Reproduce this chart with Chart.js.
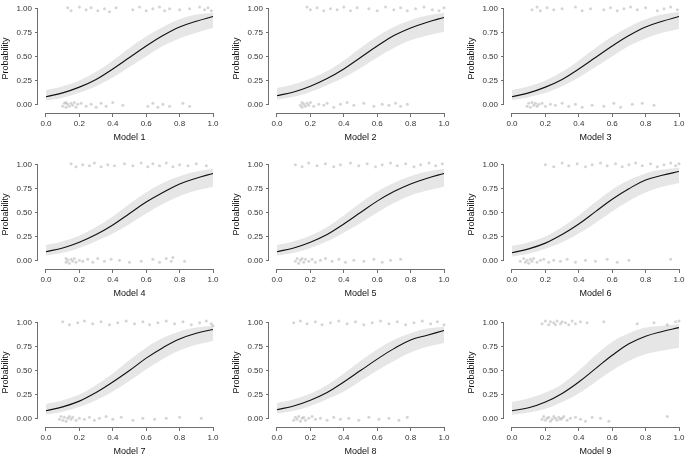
<!DOCTYPE html>
<html>
<head>
<meta charset="utf-8">
<script src="https://cdn.jsdelivr.net/npm/chart.js@4.4.0/dist/chart.umd.min.js"></script>
<style>
html, body { margin: 0; padding: 0; background: #fff; }
#wrap { position: relative; width: 685px; height: 456px; overflow: hidden; }
#wrap canvas { position: absolute; }
</style>
</head>
<body>
<div id="wrap"></div>
<script>
var modelNames = ['Model 1', 'Model 2', 'Model 3', 'Model 4', 'Model 5', 'Model 6', 'Model 7', 'Model 8', 'Model 9'];
var xTicks = [0, 0.2, 0.4, 0.6, 0.8, 1];
var yTicks = [0, 0.25, 0.5, 0.75, 1];
var xGrid = [0, 0.1, 0.2, 0.3, 0.4, 0.5, 0.6, 0.7, 0.8, 0.9, 1];

// fitted probability along xGrid, one row per model
var fitCurves = [
    [0.08, 0.12, 0.18, 0.26, 0.37, 0.49, 0.61, 0.72, 0.81, 0.87, 0.92],
    [0.09, 0.13, 0.19, 0.27, 0.37, 0.49, 0.61, 0.72, 0.80, 0.86, 0.91],
    [0.08, 0.12, 0.18, 0.26, 0.37, 0.49, 0.61, 0.72, 0.81, 0.87, 0.92],
    [0.09, 0.13, 0.19, 0.27, 0.37, 0.49, 0.61, 0.71, 0.80, 0.86, 0.91],
    [0.09, 0.13, 0.19, 0.27, 0.38, 0.50, 0.62, 0.72, 0.80, 0.86, 0.91],
    [0.08, 0.12, 0.18, 0.27, 0.38, 0.51, 0.64, 0.75, 0.84, 0.89, 0.93],
    [0.08, 0.12, 0.18, 0.27, 0.38, 0.50, 0.63, 0.74, 0.83, 0.89, 0.93],
    [0.09, 0.13, 0.19, 0.27, 0.38, 0.50, 0.62, 0.73, 0.82, 0.87, 0.92],
    [0.08, 0.11, 0.17, 0.26, 0.38, 0.52, 0.66, 0.78, 0.86, 0.91, 0.95]
];
var bandLower = [
    [0.04, 0.07, 0.12, 0.19, 0.28, 0.39, 0.50, 0.61, 0.69, 0.75, 0.80],
    [0.05, 0.08, 0.13, 0.20, 0.28, 0.38, 0.49, 0.59, 0.67, 0.72, 0.76],
    [0.045, 0.075, 0.12, 0.19, 0.28, 0.39, 0.50, 0.61, 0.69, 0.75, 0.79],
    [0.05, 0.08, 0.13, 0.20, 0.28, 0.38, 0.49, 0.59, 0.67, 0.73, 0.77],
    [0.05, 0.08, 0.13, 0.20, 0.29, 0.39, 0.50, 0.60, 0.68, 0.73, 0.77],
    [0.04, 0.07, 0.12, 0.19, 0.28, 0.39, 0.51, 0.62, 0.71, 0.77, 0.81],
    [0.04, 0.07, 0.12, 0.19, 0.28, 0.39, 0.51, 0.62, 0.71, 0.77, 0.81],
    [0.05, 0.08, 0.13, 0.20, 0.28, 0.39, 0.50, 0.60, 0.69, 0.75, 0.79],
    [0.035, 0.06, 0.10, 0.17, 0.26, 0.38, 0.50, 0.60, 0.67, 0.71, 0.74]
];
var bandUpper = [
    [0.15, 0.19, 0.25, 0.34, 0.46, 0.59, 0.71, 0.81, 0.89, 0.94, 0.96],
    [0.17, 0.21, 0.27, 0.35, 0.46, 0.59, 0.71, 0.81, 0.88, 0.93, 0.96],
    [0.15, 0.19, 0.25, 0.34, 0.46, 0.59, 0.71, 0.81, 0.89, 0.94, 0.97],
    [0.16, 0.20, 0.26, 0.35, 0.46, 0.59, 0.71, 0.81, 0.88, 0.93, 0.96],
    [0.16, 0.20, 0.26, 0.35, 0.47, 0.60, 0.72, 0.81, 0.88, 0.93, 0.96],
    [0.15, 0.19, 0.25, 0.35, 0.47, 0.61, 0.74, 0.84, 0.91, 0.95, 0.97],
    [0.15, 0.19, 0.25, 0.35, 0.47, 0.61, 0.74, 0.84, 0.91, 0.95, 0.97],
    [0.16, 0.20, 0.26, 0.35, 0.47, 0.60, 0.72, 0.82, 0.89, 0.94, 0.96],
    [0.17, 0.21, 0.27, 0.36, 0.50, 0.66, 0.80, 0.89, 0.95, 0.97, 0.985]
];

// observed outcomes (jittered around 0 and 1)
var zeroPoints = [
    [[0.10,-0.02],[0.11,0.01],[0.12,-0.03],[0.12,0.02],[0.13,0.00],[0.14,-0.02],[0.15,0.01],[0.16,-0.01],[0.17,0.02],[0.18,-0.03],[0.19,0.00],[0.21,0.01],[0.24,-0.02],[0.27,0.00],[0.30,-0.03],[0.33,0.01],[0.36,-0.02],[0.40,0.02],[0.46,-0.01],[0.61,-0.02],[0.64,0.01],[0.67,-0.03],[0.70,0.00],[0.74,-0.02],[0.82,0.01],[0.86,-0.02]],
    [[0.14,-0.01],[0.15,0.02],[0.15,-0.03],[0.16,0.00],[0.17,-0.02],[0.18,0.01],[0.19,-0.01],[0.20,0.02],[0.22,-0.02],[0.25,0.00],[0.28,-0.01],[0.30,0.01],[0.34,-0.03],[0.38,0.00],[0.42,0.02],[0.46,-0.01],[0.52,0.01],[0.58,-0.02],[0.63,0.00],[0.67,-0.01],[0.71,0.01],[0.74,-0.02],[0.78,0.00]],
    [[0.09,-0.02],[0.10,0.01],[0.11,-0.03],[0.12,0.02],[0.13,-0.01],[0.14,0.01],[0.15,-0.02],[0.16,0.00],[0.18,0.01],[0.20,-0.02],[0.23,0.00],[0.26,-0.01],[0.30,0.01],[0.34,-0.02],[0.38,0.00],[0.42,-0.03],[0.48,-0.01],[0.55,-0.02],[0.61,0.01],[0.65,-0.03],[0.72,0.00],[0.78,0.01],[0.85,-0.01]],
    [[0.12,-0.02],[0.12,0.02],[0.13,0.00],[0.14,-0.03],[0.15,0.01],[0.16,-0.01],[0.17,0.02],[0.18,-0.02],[0.20,0.00],[0.22,-0.01],[0.25,0.01],[0.28,-0.02],[0.31,0.02],[0.35,-0.01],[0.39,0.01],[0.44,0.00],[0.50,-0.02],[0.57,-0.01],[0.64,0.01],[0.68,-0.02],[0.72,0.02],[0.75,-0.01],[0.76,0.03],[0.83,-0.01]],
    [[0.11,-0.01],[0.12,0.02],[0.13,-0.03],[0.14,0.00],[0.15,0.02],[0.16,-0.02],[0.17,0.01],[0.19,-0.01],[0.21,0.01],[0.23,-0.02],[0.26,0.00],[0.29,0.02],[0.33,-0.01],[0.37,0.01],[0.41,-0.02],[0.46,0.00],[0.52,-0.01],[0.58,0.01],[0.63,-0.02],[0.68,0.00],[0.74,0.01]],
    [[0.05,-0.01],[0.07,0.02],[0.08,-0.02],[0.09,0.00],[0.10,-0.03],[0.11,0.01],[0.12,-0.01],[0.13,0.02],[0.15,-0.02],[0.17,0.00],[0.19,0.01],[0.22,-0.02],[0.25,0.00],[0.29,-0.01],[0.33,0.01],[0.38,-0.02],[0.44,0.00],[0.50,-0.01],[0.57,0.01],[0.63,-0.02],[0.70,0.00],[0.95,0.01]],
    [[0.08,-0.01],[0.09,0.02],[0.10,-0.02],[0.11,0.01],[0.12,-0.03],[0.13,0.00],[0.14,0.02],[0.15,-0.01],[0.16,0.01],[0.18,-0.02],[0.20,0.00],[0.23,-0.01],[0.26,0.01],[0.29,-0.02],[0.32,0.00],[0.36,0.02],[0.40,-0.01],[0.45,0.01],[0.52,-0.02],[0.58,0.00],[0.65,-0.01],[0.72,0.00],[0.80,0.01],[0.93,0.00]],
    [[0.10,-0.02],[0.11,0.01],[0.12,-0.01],[0.13,0.02],[0.14,-0.03],[0.15,0.00],[0.16,0.01],[0.17,-0.02],[0.19,0.00],[0.21,0.02],[0.23,-0.01],[0.26,0.00],[0.30,-0.02],[0.34,0.01],[0.38,-0.01],[0.43,0.00],[0.49,-0.02],[0.55,0.01],[0.61,-0.01],[0.67,0.00],[0.73,-0.02],[0.78,0.01]],
    [[0.18,-0.01],[0.19,0.02],[0.20,-0.02],[0.21,0.00],[0.22,0.01],[0.23,-0.03],[0.24,-0.01],[0.25,0.02],[0.26,0.00],[0.27,-0.02],[0.28,0.01],[0.29,-0.01],[0.30,0.00],[0.31,0.02],[0.33,-0.02],[0.35,0.00],[0.38,0.01],[0.41,-0.01],[0.44,-0.03],[0.48,0.01],[0.53,0.00],[0.58,-0.03],[0.93,0.02]]
];
var onePoints = [
    [[0.13,1.01],[0.15,0.98],[0.20,1.02],[0.24,0.99],[0.27,1.01],[0.31,0.98],[0.35,1.00],[0.38,0.97],[0.42,1.01],[0.52,0.99],[0.56,1.02],[0.60,0.98],[0.64,1.00],[0.68,1.02],[0.71,0.98],[0.74,1.00],[0.80,0.99],[0.86,1.00],[0.92,1.02],[0.95,0.99],[0.97,1.01],[0.99,0.98]],
    [[0.18,1.02],[0.20,0.99],[0.24,1.01],[0.28,0.98],[0.32,1.00],[0.36,0.99],[0.40,1.02],[0.44,0.98],[0.48,1.01],[0.55,1.00],[0.60,0.98],[0.65,1.02],[0.70,0.99],[0.74,1.01],[0.78,0.98],[0.83,1.00],[0.88,1.02],[0.93,0.99],[0.97,0.98],[1.00,1.01]],
    [[0.12,0.99],[0.15,1.02],[0.17,0.98],[0.21,1.01],[0.25,0.99],[0.30,1.00],[0.38,1.02],[0.42,0.98],[0.47,1.00],[0.55,0.99],[0.59,1.01],[0.63,0.98],[0.67,1.00],[0.71,1.02],[0.75,0.99],[0.80,1.01],[0.87,0.98],[0.91,1.00],[0.95,1.02],[0.99,0.99]],
    [[0.15,1.01],[0.18,0.98],[0.22,1.00],[0.26,0.99],[0.29,1.02],[0.33,0.98],[0.37,1.00],[0.41,0.99],[0.47,1.01],[0.52,0.99],[0.57,1.02],[0.61,0.98],[0.64,1.01],[0.68,0.99],[0.72,1.02],[0.76,0.98],[0.80,1.00],[0.85,0.99],[0.90,1.01],[0.96,0.99]],
    [[0.11,1.00],[0.15,0.98],[0.19,1.02],[0.24,0.99],[0.29,1.01],[0.34,0.98],[0.38,1.00],[0.44,1.02],[0.49,0.99],[0.54,1.01],[0.59,0.98],[0.63,1.00],[0.68,1.02],[0.72,0.99],[0.77,1.01],[0.82,0.98],[0.86,1.00],[0.91,1.02],[0.95,0.99],[0.99,1.01]],
    [[0.20,1.00],[0.25,0.98],[0.30,1.02],[0.34,0.99],[0.39,1.01],[0.44,0.98],[0.48,1.00],[0.53,1.02],[0.57,0.99],[0.62,1.01],[0.66,0.98],[0.70,1.00],[0.74,1.02],[0.78,0.99],[0.83,1.01],[0.87,0.98],[0.91,1.00],[0.95,1.02],[0.98,0.99],[1.00,1.01]],
    [[0.10,1.01],[0.14,0.98],[0.19,1.00],[0.23,1.02],[0.28,0.99],[0.33,1.01],[0.38,0.98],[0.43,1.00],[0.48,1.02],[0.53,0.99],[0.58,1.01],[0.62,0.98],[0.67,1.00],[0.72,1.02],[0.77,0.99],[0.82,1.01],[0.87,0.98],[0.92,1.00],[0.96,1.02],[0.99,0.99],[1.00,0.97]],
    [[0.10,1.00],[0.14,1.02],[0.18,0.99],[0.23,1.01],[0.27,0.98],[0.32,1.00],[0.37,1.02],[0.42,0.99],[0.47,1.01],[0.52,0.98],[0.57,1.00],[0.62,1.02],[0.67,0.99],[0.72,1.01],[0.77,0.98],[0.82,1.00],[0.87,1.02],[0.92,0.99],[0.96,1.01],[1.00,0.98]],
    [[0.18,0.99],[0.20,1.02],[0.22,0.98],[0.23,1.01],[0.25,1.00],[0.26,0.98],[0.27,1.02],[0.29,0.99],[0.30,1.01],[0.32,1.00],[0.34,0.98],[0.36,1.02],[0.38,0.99],[0.41,1.01],[0.45,1.00],[0.55,1.01],[0.75,0.99],[0.85,1.00],[0.93,0.98],[0.98,1.01],[1.00,1.02]]
];

var panelLeft = [0, 231, 466];
var panelTop = [0, 156, 314];
var axisColor = '#6f6f6f';
var textColor = '#333';

// R-style axis lines that stop at the first and last tick
var axisLines = {
    id: 'axisLines',
    afterDraw: function(chart) {
        var c = chart.ctx, sx = chart.scales.x, sy = chart.scales.y, a = chart.chartArea;
        c.save();
        c.strokeStyle = axisColor;
        c.lineWidth = 1;
        c.beginPath();
        var yb = Math.round(a.bottom) + 0.5;
        c.moveTo(sx.getPixelForValue(xTicks[0]), yb);
        c.lineTo(sx.getPixelForValue(xTicks[xTicks.length - 1]), yb);
        var xl = Math.round(a.left) - 0.5;
        c.moveTo(xl, sy.getPixelForValue(yTicks[0]));
        c.lineTo(xl, sy.getPixelForValue(yTicks[yTicks.length - 1]));
        c.stroke();
        c.restore();
    }
};

function toXY(xv, yv) {
    return xv.map(function(x, i) { return { x: x, y: yv[i] }; });
}
function pairs(p) {
    return p.map(function(d) { return { x: d[0], y: d[1] }; });
}

var wrap = document.getElementById('wrap');
modelNames.forEach(function(name, k) {
    var cv = document.createElement('canvas');
    cv.width = 228;
    cv.height = 143;
    cv.style.left = panelLeft[k % 3] + 'px';
    cv.style.top = panelTop[Math.floor(k / 3)] + 'px';
    wrap.appendChild(cv);

    new Chart(cv.getContext('2d'), {
        type: 'line',
        data: {
            datasets: [{
                data: toXY(xGrid, fitCurves[k]),
                borderColor: '#111',
                borderWidth: 1.1,
                pointRadius: 0,
                tension: 0.4,
                fill: false
            }, {
                data: pairs(zeroPoints[k]),
                showLine: false,
                pointRadius: 1.5,
                borderWidth: 0,
                backgroundColor: 'rgba(150,150,150,0.4)'
            }, {
                data: pairs(onePoints[k]),
                showLine: false,
                pointRadius: 1.5,
                borderWidth: 0,
                backgroundColor: 'rgba(150,150,150,0.4)'
            }, {
                data: toXY(xGrid, bandUpper[k]),
                borderWidth: 0,
                pointRadius: 0,
                tension: 0.4,
                backgroundColor: '#e6e6e6',
                fill: '+1'
            }, {
                data: toXY(xGrid, bandLower[k]),
                borderWidth: 0,
                pointRadius: 0,
                tension: 0.4,
                fill: false
            }]
        },
        options: {
            responsive: false,
            animation: false,
            events: [],
            layout: { padding: { left: 0, top: 0, right: 7, bottom: 0 } },
            plugins: { legend: { display: false }, tooltip: { enabled: false } },
            scales: {
                x: {
                    type: 'linear',
                    min: -0.0479,
                    max: 1.0479,
                    afterBuildTicks: function(s) { s.ticks = xTicks.map(function(v) { return { value: v }; }); },
                    afterFit: function(s) { s.height = 30; s.paddingLeft = 0; s.paddingRight = 0; },
                    grid: { drawOnChartArea: false, drawTicks: true, tickLength: 4, color: axisColor },
                    border: { display: false },
                    ticks: {
                        padding: 2,
                        maxRotation: 0,
                        color: textColor,
                        font: { family: 'Liberation Sans, Arial, sans-serif', size: 8 },
                        callback: function(v) { return Number(v).toFixed(1); }
                    },
                    title: {
                        display: true,
                        text: name,
                        color: '#111',
                        padding: 0,
                        font: { family: 'Liberation Sans, Arial, sans-serif', size: 9 }
                    }
                },
                y: {
                    min: -0.0909,
                    max: 1.0505,
                    afterBuildTicks: function(s) { s.ticks = yTicks.map(function(v) { return { value: v }; }); },
                    afterFit: function(s) { s.width = 38; s.paddingTop = 0; s.paddingBottom = 0; },
                    grid: { drawOnChartArea: false, drawTicks: true, tickLength: 3, color: axisColor },
                    border: { display: false },
                    ticks: {
                        padding: 3,
                        color: textColor,
                        font: { family: 'Liberation Sans, Arial, sans-serif', size: 8 },
                        callback: function(v) { return Number(v).toFixed(2); }
                    },
                    title: {
                        display: true,
                        text: 'Probability',
                        color: '#111',
                        padding: 0,
                        font: { family: 'Liberation Sans, Arial, sans-serif', size: 9 }
                    }
                }
            }
        },
        plugins: [axisLines]
    });
});
</script>
</body>
</html>
